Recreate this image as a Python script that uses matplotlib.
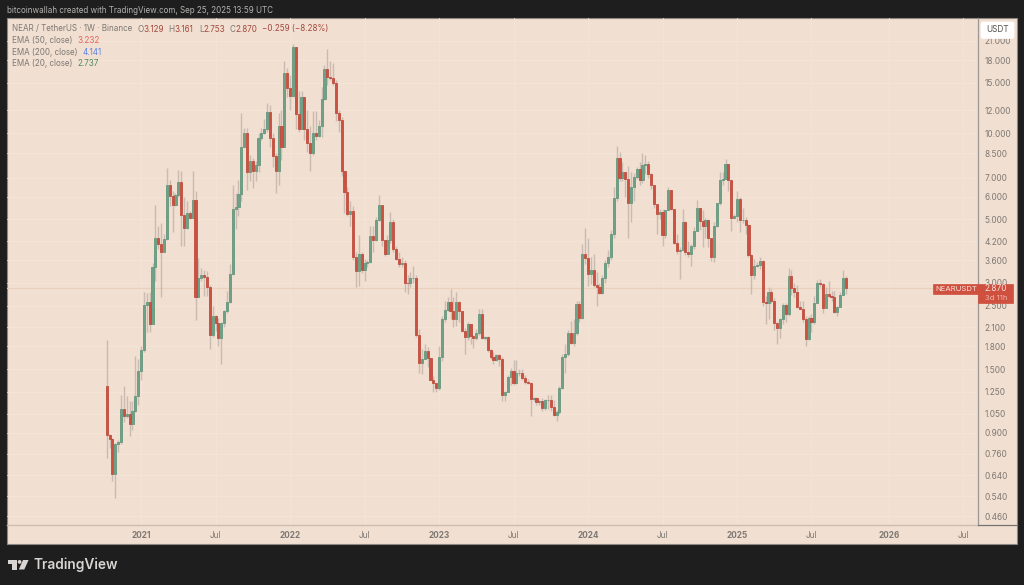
import numpy as np
import pandas as pd
import matplotlib
matplotlib.use("Agg")
import matplotlib.pyplot as plt
import matplotlib.dates as mdates
from matplotlib.patches import Rectangle, Polygon, Circle, FancyBboxPatch

first_open = 1.31
first_week = "2020-10-12"
closes = [
 .882,.859,.645,.825,.836,1.085,1.03,1.045,.963,1.07,
 1.21,1.48,1.75,2.51,2.57,2.15,3.40,4.31,4.11,3.85,
 4.27,6.61,6.05,5.60,6.10,6.75,5.17,4.65,5.27,5.07,
 5.86,2.67,3.13,3.19,3.15,2.90,1.98,2.30,2.18,1.92,
 2.17,2.39,2.57,3.23,5.44,5.52,6.15,8.92,9.98,7.31,
 8.00,7.35,7.76,9.60,10.05,10.33,11.83,9.65,8.33,7.35,
 10.55,8.98,16.17,14.35,13.48,20.0,11.67,10.35,13.4,10.35,
 9.27,8.52,10.05,9.77,10.6,13.13,16.75,15.75,15.6,15.0,
 11.8,11.12,7.35,6.24,5.20,5.34,3.70,3.30,3.80,3.32,
 3.53,3.55,4.37,4.23,4.99,5.63,4.23,3.77,4.25,4.90,
 3.93,3.64,3.48,3.53,3.01,3.00,3.11,3.12,1.97,1.57,
 1.63,1.73,1.64,1.38,1.34,1.29,1.66,2.25,2.42,2.58,
 2.40,2.24,2.58,2.39,2.04,1.95,2.15,1.96,1.93,2.01,
 2.33,1.93,1.94,1.75,1.66,1.62,1.68,1.63,1.22,1.25,
 1.41,1.48,1.34,1.45,1.46,1.40,1.35,1.345,1.18,1.19,
 1.15,1.16,1.10,1.17,1.175,1.105,1.04,1.06,1.29,1.65,
 1.70,2.00,1.85,2.00,2.53,2.27,3.80,3.66,3.23,3.32,
 2.95,2.91,2.76,3.13,3.53,3.70,4.46,5.95,8.22,7.00,
 7.30,6.92,5.70,6.47,7.02,7.49,6.88,7.76,7.80,7.20,
 6.57,5.65,5.20,5.31,4.41,5.41,6.34,5.45,4.14,3.88,
 3.91,4.91,3.86,3.77,4.03,4.55,5.50,4.95,4.73,4.96,
 4.31,3.70,4.73,5.70,6.88,6.94,7.82,6.88,5.07,5.14,
 5.90,4.96,4.99,4.76,3.75,3.19,3.44,3.46,3.58,2.57,
 2.55,2.79,2.60,2.17,2.09,2.25,2.51,2.33,3.16,2.88,
 2.78,2.47,2.43,2.24,1.91,2.27,2.19,2.55,2.99,2.98,
 2.45,2.75,2.70,2.67,2.38,2.47,2.72,3.129,2.87]
highs = [
 1.89,.89,.86,.83,.85,1.22,1.31,1.21,1.16,1.16,
 1.67,1.63,1.81,2.78,2.76,2.78,3.53,5.6,4.73,4.87,
 4.43,7.55,6.88,6.27,6.2,7.45,7.4,6.0,5.78,5.34,
 7.35,6.3,3.67,3.38,3.34,3.30,2.95,2.49,2.32,2.27,
 2.19,2.42,2.81,3.48,6.61,6.18,6.84,11.8,10.4,10.4,
 8.4,8.2,8.0,10.0,10.4,11.2,12.7,12.5,10.0,8.5,
 11.8,12.0,17.8,16.9,16.0,20.5,20.0,14.0,14.0,13.0,
 12.05,10.55,11.9,11.9,11.1,14.5,17.3,19.7,17.8,17.6,
 15.3,12.0,11.4,7.26,6.5,5.78,5.55,3.84,4.4,3.84,
 3.65,3.6,4.73,4.73,5.1,6.1,5.62,4.25,4.4,5.3,
 5.0,4.03,3.84,3.7,3.6,3.2,3.27,3.44,3.2,2.07,
 1.76,1.84,1.79,1.64,1.42,1.33,1.8,2.3,2.6,2.67,
 2.85,2.67,2.78,2.6,2.39,2.08,2.2,2.15,1.97,2.07,
 2.43,2.43,1.96,1.96,1.76,1.72,1.70,1.7,1.65,1.26,
 1.43,1.52,1.62,1.62,1.5,1.5,1.43,1.39,1.35,1.2,
 1.2,1.17,1.19,1.18,1.22,1.22,1.17,1.08,1.31,1.7,
 1.84,2.05,2.21,2.24,2.6,2.6,4.09,4.66,4.3,3.7,
 3.77,3.27,3.0,3.2,3.6,3.9,4.6,6.5,9.05,8.6,
 7.9,7.27,7.65,7.3,7.25,7.6,7.9,8.55,8.4,8.0,
 7.25,6.6,5.6,5.45,5.45,5.4,6.5,6.3,5.4,4.45,
 4.0,5.45,4.95,4.2,4.1,4.7,5.86,5.5,5.4,5.05,
 5.0,4.3,4.9,5.7,7.3,7.3,8.15,7.8,6.27,5.2,
 6.3,6.0,5.5,5.1,4.8,3.8,3.65,3.55,3.7,3.6,
 2.7,2.9,2.85,2.65,2.2,2.27,2.55,2.55,3.38,3.33,
 3.0,2.95,2.6,2.6,2.3,2.3,2.33,2.7,3.08,3.1,
 3.0,2.9,3.05,2.82,2.82,2.5,2.8,3.33,3.161]
lows = [
 .732,.793,.61,.534,.77,.82,.98,1.01,.88,.92,
 1.06,1.12,1.38,1.72,2.02,2.02,2.15,3.05,3.93,2.67,
 3.84,4.25,5.55,4.5,5.55,6.0,4.03,4.03,4.61,5.0,
 5.07,2.22,2.67,3.05,2.70,2.7,1.77,1.95,2.04,1.81,
 1.56,2.10,2.36,2.55,3.2,4.61,5.14,5.8,9.5,6.35,
 6.79,6.45,6.8,7.3,9.5,9.9,10.1,8.98,7.6,6.18,
 6.61,8.07,9.0,13.4,12.0,13.4,10.3,10.1,10.3,9.5,
 8.6,7.4,8.4,9.5,9.7,9.7,13,14.7,15.3,14.7,
 11,10.1,7.1,5.27,5.13,4.73,3.62,2.9,2.93,3.25,
 3.05,3.4,3.53,3.85,4.2,4.95,4.03,3.72,3.84,4.15,
 3.85,3.6,3.4,3.4,2.79,2.74,2.9,3.0,1.95,1.46,
 1.44,1.65,1.53,1.37,1.25,1.25,1.27,1.6,2.2,2.40,
 2.24,2.1,2.12,2.2,2.02,1.69,1.9,1.84,1.78,1.90,
 1.98,1.91,1.89,1.72,1.63,1.56,1.6,1.54,1.16,1.16,
 1.25,1.32,1.32,1.33,1.42,1.37,1.33,1.33,1.03,1.16,
 1.12,1.12,1.07,1.08,1.09,1.07,1.03,.985,1.05,1.28,
 1.46,1.67,1.83,1.80,1.97,2.19,2.25,3.5,2.93,2.97,
 2.9,2.49,2.74,2.74,3.0,3.4,3.6,4.3,5.8,6.8,
 6.8,6,4.3,4.9,5.8,6.9,6.6,6.7,7.2,7.0,
 6.4,5.5,4.43,5,4.03,4.3,5.4,5.4,4.1,3.8,
 3.09,3.95,3.75,3.7,3.45,3.95,4.6,4.6,4.0,4.3,
 4.0,3.58,3.55,4.7,5.6,6.6,6.9,6.3,4.55,5.0,
 4.9,4.5,4.85,4.45,3.7,2.75,3.1,3.4,3.35,2.5,
 2.15,2.25,2.55,2.05,1.84,1.92,2.15,2.2,2.3,2.72,
 2.68,2.45,2.43,2.2,1.8,1.9,2.02,2.15,2.55,2.9,
 2.35,2.47,2.68,2.6,2.35,2.3,2.48,2.72,2.753]

price_ticks = [0.46,0.54,0.64,0.76,0.9,1.05,1.25,1.5,1.8,2.1,2.5,3,3.6,4.2,5,6,7,8.5,10,12,15,18,21]
time_ticks = ["2021-01-04","2021-07-05","2022-01-03","2022-07-04","2023-01-02","2023-07-03",
              "2024-01-01","2024-07-01","2024-12-30","2025-06-30","2026-01-05","2026-07-06"]
time_labels = ["2021","Jul","2022","Jul","2023","Jul","2024","Jul","2025","Jul","2026","Jul"]
last_price = 2.87

BG = "#f1dfd1"; DARK = "#1e1e1e"; GRID = "#f4e5d9"
GREEN = "#6fa189"; GREEN_E = "#66977f"; RED = "#cb5242"; RED_E = "#c04d3e"
TXT = "#7d7873"; TAG = "#d0503f"
FONT = ["Inter", "DejaVu Sans"]
plt.rcParams["font.family"] = FONT

W, H = 1024, 585
fig = plt.figure(figsize=(W/100, H/100), dpi=100, facecolor=DARK)

# pixel canvas behind the chart
bg = fig.add_axes([0, 0, 1, 1], zorder=0)
bg.set_xlim(0, W); bg.set_ylim(H, 0); bg.axis("off")
bg.add_patch(Rectangle((7, 18), 1009.7, 526, fc=BG, ec="#8c8782", lw=0.8))

L, R, T, B = 7, 978.3, 18, 525
ax = fig.add_axes([L/W, 1-B/H, (R-L)/W, (B-T)/H], zorder=1)
ax.patch.set_alpha(0)

dates = pd.date_range(first_week, periods=len(closes), freq="7D")
x = mdates.date2num(dates)
opens = [first_open] + closes[:-1]
o, c, h, l = map(np.array, (opens, closes, highs, lows))
h = np.maximum(h, np.maximum(o, c)); l = np.minimum(l, np.minimum(o, c))

ax.set_yscale("log")
ax.set_ylim(0.4286, 25.23)
wk = 7 / 2.865
ax.set_xlim(x[0] - (106.7-L)*wk, x[0] + (R-106.7)*wk)

ax.vlines(x, l, h, color="#a89f97", alpha=0.55, lw=1.0, zorder=2)
up = c >= o
ax.bar(x[up], (c-o)[up], bottom=o[up], width=5.2, color=GREEN, edgecolor=GREEN_E, lw=0.6, zorder=3)
ax.bar(x[~up], (o-c)[~up], bottom=c[~up], width=5.2, color=RED, edgecolor=RED_E, lw=0.6, zorder=3)

ax.axhline(last_price, color="#eccfba", lw=0.8, zorder=1)
ax.set_yticks(price_ticks)
ax.set_yticklabels([f"{p:.3f}" for p in price_ticks])
ax.minorticks_off()
ax.yaxis.tick_right()
ax.set_xticks(mdates.date2num(pd.to_datetime(time_ticks)))
ax.set_xticklabels(time_labels)
ax.tick_params(axis="y", length=0, pad=4.6, labelsize=6.0, labelcolor=TXT)
ax.tick_params(axis="x", length=0, pad=4.4, labelsize=5.9, labelcolor=TXT)
for tl in ax.get_xticklabels():
    if tl.get_text() != "Jul":
        tl.set_fontweight("bold")
ax.grid(True, color=GRID, lw=0.6, zorder=0)
ax.set_axisbelow(True)
for s in ("top", "left"):
    ax.spines[s].set_visible(False)
ax.spines["right"].set_color("#9b9691"); ax.spines["right"].set_linewidth(0.9)
ax.spines["bottom"].set_color("#cdbfb1"); ax.spines["bottom"].set_linewidth(1.0)

# pixel canvas on top
ov = fig.add_axes([0, 0, 1, 1], zorder=2)
ov.set_xlim(0, W); ov.set_ylim(H, 0); ov.axis("off"); ov.patch.set_alpha(0)
ov.plot([R, 1016.7], [B, B], color="#77726e", lw=0.9)

def t(px, py, s, color=TXT, size=5.8, **k):
    return ov.text(px, py, s, color=color, fontsize=size, va="center", **k)

t(7, 10.5, "bitcoinwallah created with TradingView.com, Sep 25, 2025 13:59 UTC", color="#b4b2b0")
t(12, 29, "NEAR / TetherUS · 1W · Binance")
VAL = "#a3483c"
for px, s in [(137, "O"), (143, "3.129"), (168.3, "H"), (174, "3.161"), (199, "L"), (203.5, "2.753"),
              (229.3, "C"), (235, "2.870"), (261.7, "−0.259 (−8.28%)")]:
    t(px, 29, s, color=TXT if len(s) == 1 else VAL)
t(12, 40.7, "EMA (50, close)");  t(77.7, 40.7, "3.232", color="#e0655a")
t(12, 52.3, "EMA (200, close)"); t(82.3, 52.3, "4.141", color="#5b86e0")
t(12, 64, "EMA (20, close)");  t(77.3, 64, "2.737", color="#4e8a66")

ov.add_patch(FancyBboxPatch((981, 22), 33, 16.5, boxstyle="round,pad=0,rounding_size=2", fc="white", ec="white", lw=0.5))
t(997.5, 29.3, "USDT", color="#55524f", size=5.9, ha="center")

# last-price tag
ov.add_patch(Rectangle((933, 283.5), 45.3, 10.2, fc=TAG, ec=TAG, lw=0.5))
ov.add_patch(Rectangle((978.3, 283.5), 34.5, 19.3, fc=TAG, ec=TAG, lw=0.5))
t(935.3, 288.8, "NEARUSDT", color="#f7e3dc", size=5.6)
t(984.7, 288.8, "2.870", color="#f7e3dc", size=6.0)
t(984.7, 297.5, "3d 11h", color="#efb5ab", size=5.6)

# brand
LOGO = "#d8d5d2"
ov.add_patch(Polygon([(8, 560), (16.5, 560), (16.5, 569.5), (12, 569.5), (12, 563.6), (8, 563.6)], fc=LOGO, ec="none"))
ov.add_patch(Circle((19.6, 561.9), 1.9, fc=LOGO, ec="none"))
ov.add_patch(Polygon([(23, 560), (28.6, 560), (24.3, 569.5), (18.8, 569.5)], fc=LOGO, ec="none"))
t(33, 564.8, "TradingView", color=LOGO, size=9.9, fontweight="semibold")

fig.savefig("out.png", dpi=100, facecolor=DARK)
